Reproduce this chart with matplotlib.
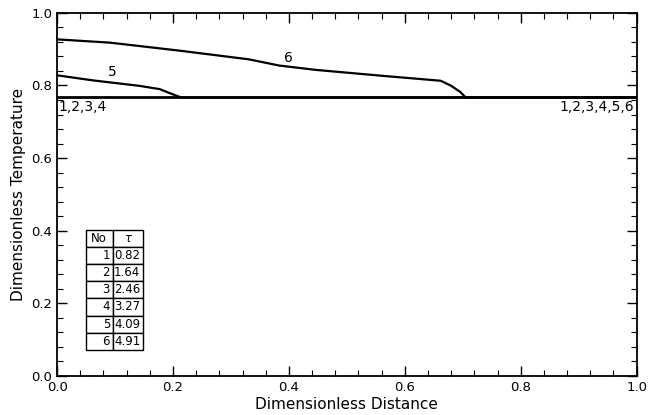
import matplotlib.pyplot as plt
from matplotlib.ticker import MultipleLocator, FormatStrFormatter

# curves 1-4 (and the tail of 5, 6) lie on the base temperature
base_temp = 0.767

curve5_x = [0.0, 0.062, 0.142, 0.177, 0.199, 0.214, 1.0]
curve5_y = [0.828, 0.814, 0.799, 0.790, 0.776, 0.767, 0.767]

curve6_x = [0.0, 0.091, 0.211, 0.331, 0.383, 0.446, 0.566, 0.662, 0.679, 0.695, 0.705, 1.0]
curve6_y = [0.927, 0.918, 0.896, 0.872, 0.855, 0.843, 0.826, 0.813, 0.800, 0.783, 0.767, 0.767]

table_no = ["1", "2", "3", "4", "5", "6"]
table_tau = ["0.82", "1.64", "2.46", "3.27", "4.09", "4.91"]


def main():
    fig = plt.figure(figsize=(6.49, 4.15), dpi=100)
    ax = fig.add_axes([0.088, 0.094, 0.893, 0.875])

    ax.plot([0, 1], [base_temp, base_temp], color="black", lw=2)
    ax.plot(curve5_x, curve5_y, color="black", lw=1.6)
    ax.plot(curve6_x, curve6_y, color="black", lw=1.6)

    # curve labels
    ax.text(0.002, base_temp - 0.006, "1,2,3,4", ha="left", va="top", fontsize=10)
    ax.text(0.995, base_temp - 0.006, "1,2,3,4,5,6", ha="right", va="top", fontsize=10)
    ax.text(0.095, 0.818, "5", ha="center", va="bottom", fontsize=10)
    ax.text(0.4, 0.857, "6", ha="center", va="bottom", fontsize=10)

    ax.set_xlim(0, 1)
    ax.set_ylim(0, 1)
    ax.xaxis.set_major_locator(MultipleLocator(0.2))
    ax.xaxis.set_minor_locator(MultipleLocator(0.04))
    ax.yaxis.set_major_locator(MultipleLocator(0.2))
    ax.yaxis.set_minor_locator(MultipleLocator(0.04))
    ax.xaxis.set_major_formatter(FormatStrFormatter("%.1f"))
    ax.yaxis.set_major_formatter(FormatStrFormatter("%.1f"))
    ax.tick_params(which="both", direction="in", top=True, right=True, labelsize=9.5)
    ax.tick_params(which="major", length=7, width=1)
    ax.tick_params(which="minor", length=4, width=0.8)
    for s in ax.spines.values():
        s.set_linewidth(1.3)

    ax.set_xlabel("Dimensionless Distance", fontsize=11, labelpad=2)
    ax.set_ylabel("Dimensionless Temperature", fontsize=11, labelpad=4)

    # legend table of tau values
    cells = [[n, t] for n, t in zip(table_no, table_tau)]
    tab = ax.table(cellText=cells, colLabels=["No", r"$\tau$"],
                   cellLoc="right", colWidths=[0.47, 0.53],
                   bbox=[0.049, 0.072, 0.1, 0.331])
    tab.auto_set_font_size(False)
    tab.set_fontsize(8.5)
    for (r, c), cell in tab.get_celld().items():
        cell.set_linewidth(1)
        if r == 0:
            cell.get_text().set_horizontalalignment("center")

    fig.savefig("out.png", dpi=100)


if __name__ == "__main__":
    main()
